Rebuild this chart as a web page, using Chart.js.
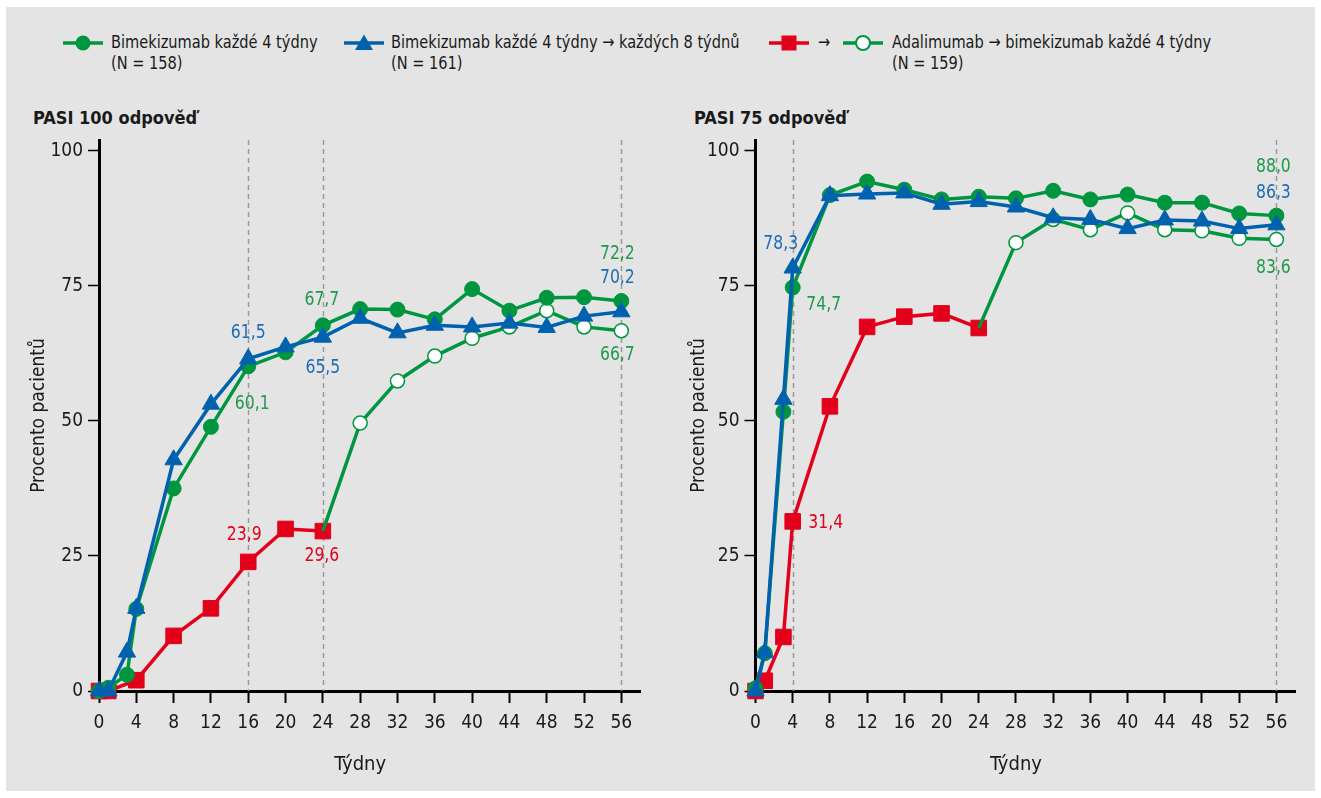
<!DOCTYPE html>
<html lang="cs">
<head>
<meta charset="utf-8">
<title>PASI 100 a PASI 75 odpověď</title>
<script src="https://cdn.jsdelivr.net/npm/chart.js@4.4.1/dist/chart.umd.min.js"></script>
<style>
  html, body { margin: 0; padding: 0; background: #fff; }
  body { width: 1321px; height: 798px; position: relative; overflow: hidden;
         font-family: "DejaVu Sans Condensed", "DejaVu Sans", sans-serif; color: #1a1a1a; }
  #panel { position: absolute; left: 6px; top: 7px; width: 1309px; height: 784px; background: #e4e4e4; }
  .leg { position: absolute; font-size: 18px; line-height: 20.6px; white-space: nowrap;
         transform: scaleX(0.9); transform-origin: 0 0; }
  .ikona { position: absolute; }
  .nadpis { position: absolute; font-weight: bold; font-size: 18px; line-height: 22px; white-space: nowrap; }
  canvas { position: absolute; }
</style>
</head>
<body>
<div id="panel"></div>

<!-- legenda -->
<svg class="ikona" style="left:62px;top:33px" width="42" height="20">
  <line x1="1" y1="10" x2="41" y2="10" stroke="#00963f" stroke-width="3.5"/>
  <circle cx="21" cy="10" r="7.5" fill="#00963f"/>
</svg>
<div class="leg" style="left:111px;top:32px">Bimekizumab každé 4 týdny<br>(N = 158)</div>

<svg class="ikona" style="left:343px;top:33px" width="42" height="20">
  <line x1="1" y1="10" x2="41" y2="10" stroke="#0062ae" stroke-width="3.5"/>
  <polygon points="21,1.5 30,17 12,17" fill="#0062ae"/>
</svg>
<div class="leg" style="left:391px;top:32px">Bimekizumab každé 4 týdny → každých 8 týdnů<br>(N = 161)</div>

<svg class="ikona" style="left:768px;top:33px" width="42" height="20">
  <line x1="1" y1="10" x2="41" y2="10" stroke="#e2001a" stroke-width="3.5"/>
  <rect x="13.5" y="2.5" width="15" height="15" fill="#e2001a"/>
</svg>
<div class="leg" style="left:818px;top:32px">→</div>
<svg class="ikona" style="left:842px;top:33px" width="42" height="20">
  <line x1="1" y1="10" x2="41" y2="10" stroke="#00963f" stroke-width="3.5"/>
  <circle cx="21" cy="10" r="7" fill="#fff" stroke="#00963f" stroke-width="2"/>
</svg>
<div class="leg" style="left:892px;top:32px">Adalimumab → bimekizumab každé 4 týdny<br>(N = 159)</div>

<div class="nadpis" style="left:33px;top:107px">PASI 100 odpověď</div>
<div class="nadpis" style="left:694px;top:107px">PASI 75 odpověď</div>

<canvas id="graf100" width="660" height="698" style="left:0px;top:100px"></canvas>
<canvas id="graf75" width="661" height="698" style="left:660px;top:100px"></canvas>

<script>
// týdny měření
var tydnyBkz = [0, 1, 3, 4, 8, 12, 16, 20, 24, 28, 32, 36, 40, 44, 48, 52, 56];
var tydnyAda100 = [0, 1, 4, 8, 12, 16, 20, 24];
var tydnyAda75 = [0, 1, 3, 4, 8, 12, 16, 20, 24];
var tydnyPrechod = [24, 28, 32, 36, 40, 44, 48, 52, 56];
var xTicks = [0, 4, 8, 12, 16, 20, 24, 28, 32, 36, 40, 44, 48, 52, 56];
var yTicks = [0, 25, 50, 75, 100];

// PASI 100 (% pacientů)
var p100Q4 = [0, 0.6, 3.0, 15.2, 37.5, 48.9, 60.1, 62.7, 67.7, 70.7, 70.6, 68.8, 74.4, 70.4, 72.8, 72.9, 72.2];
var p100Q4Q8 = [0, 0, 7.2, 15.3, 42.8, 53.1, 61.5, 63.7, 65.5, 69.0, 66.3, 67.7, 67.4, 68.1, 67.3, 69.4, 70.2];
var p100Ada = [0, 0, 2.0, 10.2, 15.3, 23.9, 30.0, 29.6];
var p100AdaBkz = [29.6, 49.6, 57.4, 62.0, 65.3, 67.4, 70.4, 67.4, 66.7];

// PASI 75 (% pacientů)
var p75Q4 = [0.5, 7.0, 51.7, 74.7, 91.8, 94.3, 92.8, 91.0, 91.5, 91.2, 92.6, 91.0, 91.9, 90.4, 90.4, 88.4, 88.0];
var p75Q4Q8 = [0, 7.1, 54.0, 78.3, 91.7, 92.0, 92.2, 90.1, 90.6, 89.6, 87.6, 87.3, 85.6, 87.2, 87.0, 85.6, 86.3];
var p75Ada = [0, 1.9, 10.0, 31.4, 52.7, 67.4, 69.3, 69.9, 67.2];
var p75AdaBkz = [67.2, 83.0, 87.3, 85.4, 88.5, 85.4, 85.2, 83.8, 83.6];

var ZELENA = '#00963f';
var MODRA = '#0062ae';
var CERVENA = '#e2001a';
var PISMO = '"DejaVu Sans Condensed", "DejaVu Sans", sans-serif';

Chart.defaults.font.family = PISMO;
Chart.defaults.color = '#1a1a1a';

function body(tydny, hodnoty) {
    return tydny.map(function (t, i) { return { x: t, y: hodnoty[i] }; });
}

// svislé přerušované čáry
var svislice = {
    id: 'svislice',
    beforeDatasetsDraw: function (chart, args, opts) {
        var ctx = chart.ctx, a = chart.chartArea, sx = chart.scales.x;
        ctx.save();
        ctx.strokeStyle = '#9a9a9a';
        ctx.lineWidth = 1.5;
        ctx.setLineDash([5, 4]);
        opts.tydny.forEach(function (t) {
            var x = Math.round(sx.getPixelForValue(t)) + 0.5;
            ctx.beginPath();
            ctx.moveTo(x, a.top);
            ctx.lineTo(x, a.bottom);
            ctx.stroke();
        });
        ctx.restore();
    }
};

// popisky hodnot u vybraných bodů + název osy x uprostřed rozsahu 0-56
var popisky = {
    id: 'popisky',
    afterDatasetsDraw: function (chart, args, opts) {
        var ctx = chart.ctx, sx = chart.scales.x, sy = chart.scales.y;
        ctx.save();
        ctx.font = '20px ' + PISMO;
        ctx.textAlign = 'center';
        ctx.textBaseline = 'middle';
        opts.seznam.forEach(function (p) {
            var ds = chart.data.datasets[p.ds];
            var bod = ds.data.find(function (d) { return d.x === p.x; });
            var x = sx.getPixelForValue(bod.x);
            var y = sy.getPixelForValue(bod.y);
            ctx.save();
            ctx.translate(x + p.dx, y + p.dy);
            ctx.scale(0.87, 1);
            ctx.fillStyle = p.barva;
            ctx.fillText(bod.y.toFixed(1).replace('.', ','), 0, 0);
            ctx.restore();
        });
        ctx.fillStyle = '#1a1a1a';
        var stred = (sx.getPixelForValue(xTicks[0]) + sx.getPixelForValue(xTicks[xTicks.length - 1])) / 2;
        ctx.fillText(opts.osaX, stred, chart.chartArea.bottom + 74);
        ctx.restore();
    }
};

function vytvorGraf(id, data, padding, carky, seznam) {
    var datasets = [
        {
            label: 'Bimekizumab každé 4 týdny → každých 8 týdnů',
            data: body(tydnyBkz, data.q4q8),
            borderColor: MODRA, backgroundColor: MODRA,
            pointStyle: 'triangle', pointRadius: 10, borderWidth: 3.5, pointBorderWidth: 1
        },
        {
            label: 'Bimekizumab každé 4 týdny',
            data: body(tydnyBkz, data.q4),
            borderColor: ZELENA, backgroundColor: ZELENA,
            pointStyle: 'circle', pointRadius: 7.5, borderWidth: 3.5, pointBorderWidth: 1
        },
        {
            label: 'Adalimumab → bimekizumab každé 4 týdny',
            data: body(tydnyPrechod, data.adaBkz),
            borderColor: ZELENA, backgroundColor: '#fff',
            pointStyle: 'circle', pointRadius: tydnyPrechod.map(function (t, i) { return i === 0 ? 0 : 7; }),
            borderWidth: 3.5, pointBorderWidth: 1.5
        },
        {
            label: 'Adalimumab',
            data: body(data.tydnyAda, data.ada),
            borderColor: CERVENA, backgroundColor: CERVENA,
            pointStyle: 'rect', pointRadius: 11, borderWidth: 3.5, pointBorderWidth: 1
        }
    ];
    datasets.forEach(function (d) { d.clip = false; d.tension = 0; });

    return new Chart(document.getElementById(id), {
        type: 'line',
        data: { datasets: datasets },
        options: {
            responsive: false,
            devicePixelRatio: 1,
            animation: false,
            layout: { padding: padding },
            plugins: {
                legend: { display: false },
                tooltip: { enabled: false },
                svislice: { tydny: carky },
                popisky: { seznam: seznam, osaX: 'Týdny' }
            },
            scales: {
                x: {
                    type: 'linear', min: 0, max: 58,
                    afterBuildTicks: function (s) { s.ticks = xTicks.map(function (v) { return { value: v }; }); },
                    afterFit: function (s) { s.height = 98; },
                    ticks: { font: { size: 19 }, padding: 9, maxRotation: 0, autoSkip: false, color: '#1a1a1a' },
                    grid: { drawOnChartArea: false, drawTicks: true, tickLength: 12, tickWidth: 2, tickColor: '#000' },
                    border: { display: true, color: '#000', width: 3 },
                    title: { display: false }
                },
                y: {
                    type: 'linear', min: 0, max: 102,
                    afterBuildTicks: function (s) { s.ticks = yTicks.map(function (v) { return { value: v }; }); },
                    afterFit: function (s) { s.width = padding.yw; },
                    ticks: { font: { size: 19 }, padding: 5, autoSkip: false, color: '#1a1a1a' },
                    grid: { drawOnChartArea: false, drawTicks: true, tickLength: 11, tickWidth: 1.5, tickColor: '#000' },
                    border: { display: true, color: '#000', width: 3 },
                    title: { display: true, text: 'Procento pacientů', font: { size: 19 }, padding: { top: 8, bottom: 0 }, color: '#1a1a1a' }
                }
            }
        },
        plugins: [svislice, popisky]
    });
}

vytvorGraf('graf100',
    { q4: p100Q4, q4q8: p100Q4Q8, ada: p100Ada, tydnyAda: tydnyAda100, adaBkz: p100AdaBkz },
    { left: 20, right: 20, top: 40, bottom: 9, yw: 79 },
    [16, 24, 56],
    [
        { ds: 0, x: 16, dx: 0, dy: -26, barva: '#1d6db5' },
        { ds: 1, x: 16, dx: 4, dy: 37, barva: '#1f9a4b' },
        { ds: 1, x: 24, dx: -1, dy: -25, barva: '#1f9a4b' },
        { ds: 0, x: 24, dx: 0, dy: 31, barva: '#1d6db5' },
        { ds: 3, x: 16, dx: -4, dy: -27, barva: CERVENA },
        { ds: 3, x: 24, dx: -1, dy: 25, barva: CERVENA },
        { ds: 1, x: 56, dx: -4, dy: -47, barva: '#1f9a4b' },
        { ds: 0, x: 56, dx: -4, dy: -34, barva: '#1d6db5' },
        { ds: 2, x: 56, dx: -4, dy: 24, barva: '#1f9a4b' }
    ]);

vytvorGraf('graf75',
    { q4: p75Q4, q4q8: p75Q4Q8, ada: p75Ada, tydnyAda: tydnyAda75, adaBkz: p75AdaBkz },
    { left: 20, right: 26, top: 40, bottom: 9, yw: 75.5 },
    [4, 56],
    [
        { ds: 0, x: 4, dx: -12, dy: -24, barva: '#1d6db5' },
        { ds: 1, x: 4, dx: 31, dy: 17, barva: '#1f9a4b' },
        { ds: 3, x: 4, dx: 33, dy: 1, barva: CERVENA },
        { ds: 1, x: 56, dx: -3, dy: -49, barva: '#1f9a4b' },
        { ds: 0, x: 56, dx: -3, dy: -32, barva: '#1d6db5' },
        { ds: 2, x: 56, dx: -3, dy: 28, barva: '#1f9a4b' }
    ]);
</script>
</body>
</html>
